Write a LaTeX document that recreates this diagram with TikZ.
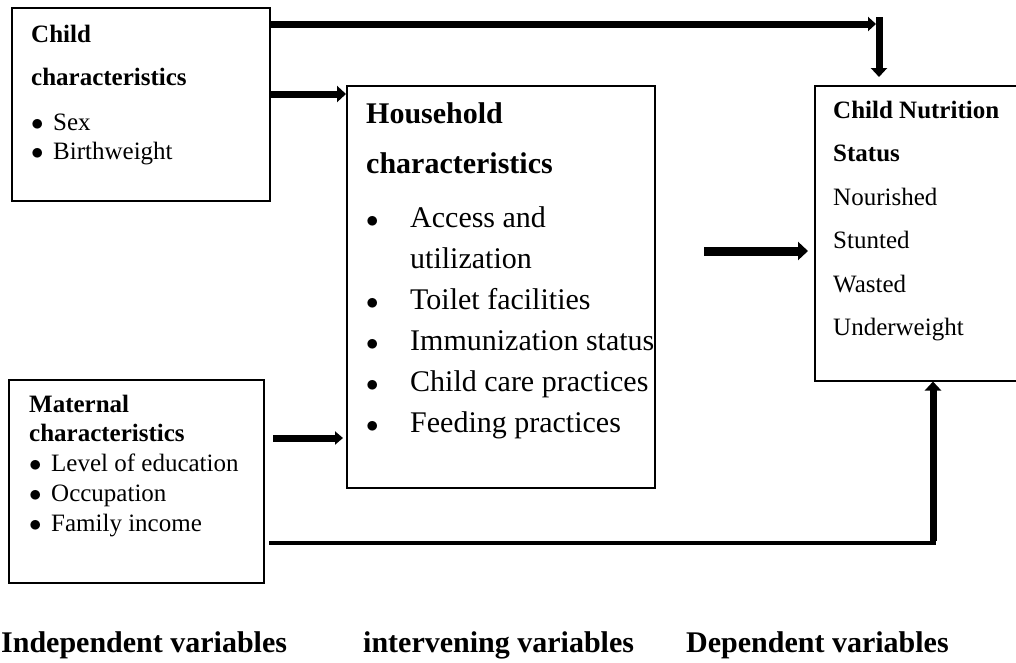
\documentclass[tikz,border=0pt]{standalone}
\usepackage{fontspec}
\setmainfont{Liberation Serif}
\usepackage{tikz}
\usetikzlibrary{arrows.meta,positioning}
\newcommand{\itm}[1]{\makebox[#1][l]{$\bullet$}}

\begin{document}
\begin{tikzpicture}[x=1pt,y=-1pt,box/.style={rectangle,draw,line width=1.5pt,inner sep=0pt,anchor=north west},txt/.style={inner sep=0pt,anchor=north west,align=left},head/.style={inner sep=0pt,anchor=base west,font=\fontsize{30}{36}\selectfont\bfseries},arrow/.style={-{Triangle[length=9pt,width=16pt]},line width=7pt}]
\clip (0,0) rectangle (1016,662);
\node[box,minimum width=258pt,minimum height=193pt] (child) at (11,7) {};
\node[box,minimum width=308pt,minimum height=402pt] (house) at (346,85) {};
\node[box,minimum width=206pt,minimum height=295pt] (nutr) at (814,85) {};
\node[box,minimum width=255pt,minimum height=203pt] (mat) at (8,379) {};
\node[txt,font=\fontsize{25}{29}\selectfont] (childtxt) at ([xshift=20pt]child.north west) {\rule{0pt}{35pt}\textbf{Child}\\[14pt]\textbf{characteristics}\\[16pt]\itm{22pt}Sex\\\itm{22pt}Birthweight};
\node[txt,font=\fontsize{30}{41}\selectfont] (housetxt) at ([xshift=20pt]house.north west) {\rule{0pt}{38pt}\textbf{Household}\\[9pt]\textbf{characteristics}\\[13pt]\itm{44pt}Access and\\\hspace*{44pt}utilization\\\itm{44pt}Toilet facilities\\\itm{44pt}Immunization status\\\itm{44pt}Child care practices\\\itm{44pt}Feeding practices};
\node[txt,font=\fontsize{25}{43.5}\selectfont] (nutrtxt) at ([xshift=19pt]nutr.north west) {\rule{0pt}{33pt}\textbf{Child Nutrition}\\\textbf{Status}\\Nourished\\Stunted\\Wasted\\Underweight};
\node[txt,font=\fontsize{25}{30}\selectfont] (mattxt) at ([xshift=21pt]mat.north west) {\rule{0pt}{33pt}\textbf{Maternal}\\[-1pt]\textbf{characteristics}\\\itm{22pt}Level of education\\\itm{22pt}Occupation\\\itm{22pt}Family income};
\node[head] (indep) at (1,652) {Independent variables};
\node[head] (interv) at (363,652) {intervening variables};
\node[head] (dep) at (686,652) {Dependent variables};
% connectors
\coordinate (topend) at (876,24);
\coordinate (topbend) at (879,17);
\coordinate (hh) at (300,94);
\coordinate (mm) at (704,251);
\coordinate (mh) at (273,438);
\coordinate (bl) at (269,543);
\coordinate (br) at (933,543);
\draw[arrow,-{Triangle[length=8pt,width=14pt]}] (child.east |- topend) -- (topend);
\draw[arrow,shorten >=8pt] (topbend) -- (topbend |- nutr.north);
\draw[arrow] (child.east |- hh) -- (house.west |- hh);
\draw[arrow,line width=9pt,-{Triangle[length=10pt,width=18pt]},shorten >=6pt] (mm) -- (mm -| nutr.west);
\draw[arrow,-{Triangle[length=8pt,width=13pt]},shorten >=3pt] (mh) -- (mh -| house.west);
\draw[line width=4.5pt] (bl) -- ([xshift=3pt]br);
\draw[arrow] ([yshift=2pt]br) -- (br |- nutr.south);
\end{tikzpicture}
\end{document}
